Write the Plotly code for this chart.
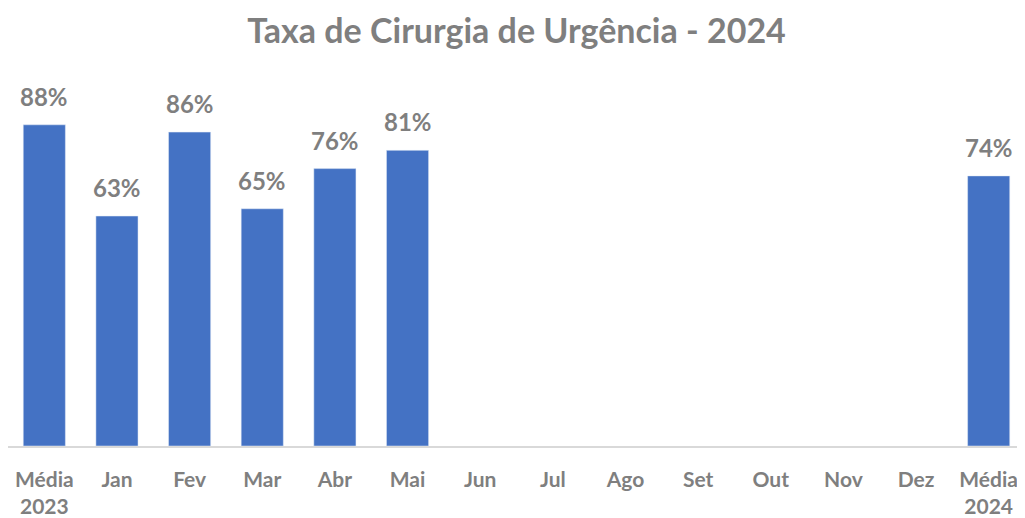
import plotly.graph_objects as go

categories = ["Média<br>2023", "Jan", "Fev", "Mar", "Abr", "Mai", "Jun", "Jul",
              "Ago", "Set", "Out", "Nov", "Dez", "Média<br>2024"]
values = [88, 63, 86, 65, 76, 81, None, None, None, None, None, None, None, 74]

fig = go.Figure(go.Bar(
    x=categories, y=values,
    marker=dict(color="#4472C4"),
))

for c, v in zip(categories, values):
    if v is None:
        continue
    fig.add_annotation(x=c, y=v, text=f"<b>{v}%</b>", showarrow=False,
                       yanchor="bottom", yshift=12,
                       font=dict(family="Lato", size=24, color="#7F7F7F"))

fig.update_layout(
    width=1017, height=510,
    margin=dict(l=0, r=0, t=73, b=72),
    paper_bgcolor="white", plot_bgcolor="white",
    bargap=0.42,
    showlegend=False,
    title=dict(text="<b>Taxa de Cirurgia de Urgência - 2024</b>", x=0.5, xanchor="center",
               y=0.955, yanchor="middle",
               font=dict(family="Lato", size=34, color="#7F7F7F")),
    xaxis=dict(showline=True, linecolor="#D9D9D9", linewidth=1.5, ticks="",
               ticklabelstandoff=14,
               tickfont=dict(family="Lato", size=21, color="#7F7F7F", weight="bold"),
               showgrid=False),
    yaxis=dict(range=[0, 100], visible=False, showgrid=False),
)

fig.write_html("out.html")
